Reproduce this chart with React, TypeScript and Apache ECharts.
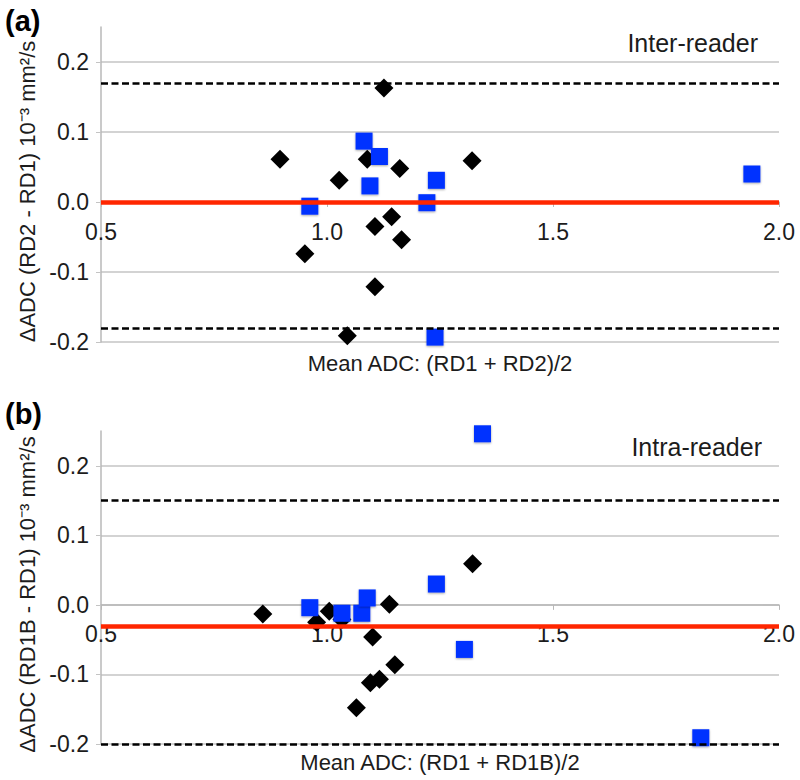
import React, { useEffect, useRef } from "react";
import * as echarts from "echarts";

// ---- Data: (a) Inter-reader ----
const interBlackX = [0.896, 1.027, 1.089, 1.126, 1.161, 1.321, 0.951, 1.106, 1.143, 1.165, 1.106, 1.045];
const interBlackY = [0.061, 0.031, 0.061, 0.163, 0.048, 0.059, -0.074, -0.035, -0.021, -0.054, -0.121, -0.191];
const interBlueX = [1.082, 1.116, 1.095, 1.242, 0.962, 1.221, 1.940, 1.239];
const interBlueY = [0.087, 0.065, 0.023, 0.031, -0.006, -0.001, 0.040, -0.193];
const interBias = 0.0;
const interUpper = 0.175;
const interLower = -0.178;

// ---- Data: (b) Intra-reader ----
const intraBlackX = [0.858, 0.977, 1.005, 1.033, 1.138, 1.101, 1.150, 1.096, 1.116, 1.065, 1.322];
const intraBlackY = [-0.013, -0.025, -0.009, -0.021, 0.001, -0.046, -0.086, -0.112, -0.107, -0.148, 0.059];
const intraBlueX = [0.962, 1.033, 1.077, 1.089, 1.242, 1.304, 1.344, 1.827];
const intraBlueY = [-0.004, -0.012, -0.012, 0.010, 0.030, -0.064, 0.246, -0.191];
const intraBias = -0.025;
const intraUpper = 0.15;
const intraLower = -0.199;

// ---- Axis settings / labels ----
const xMin = 0.5, xMax = 2.0, xStep = 0.5;
const yMin = -0.2, yMax = 0.25, yStep = 0.1;
const xCross = 0; // x axis crosses the y axis at this value
const panelLabels = ["(a)", "(b)"];
const panelTitles = ["Inter-reader", "Intra-reader"];
const yNames = ["ΔADC (RD2 - RD1) 10⁻³ mm²/s", "ΔADC (RD1B - RD1) 10⁻³ mm²/s"];
const xNames = ["Mean ADC: (RD1 + RD2)/2", "Mean ADC: (RD1 + RD1B)/2"];

const FONT = "'Liberation Sans', Arial, Helvetica, sans-serif";
const TXT = "#1c1c1c";
const GRIDC = "#c4c4c4";
const BLUE = "#0432ff";
const RED = "#ff2600";

const zip = (xs: number[], ys: number[]) => xs.map((x, i) => [x, ys[i]]);

export default function App() {
  const ref = useRef<HTMLDivElement>(null);
  useEffect(() => {
    if (!ref.current) return;
    const chart = echarts.init(ref.current, null, { renderer: "svg" });

    const grids = [
      { left: 101, right: 21, top: 27, height: 315 },
      { left: 101, right: 21, top: 431, height: 313 },
    ];

    const xAxes = [0, 1].map((g) => ({
      type: "value",
      gridIndex: g,
      min: xMin,
      max: xMax,
      interval: xStep,
      position: "bottom",
      // place the axis where y = xCross
      offset: -((xCross - yMin) / (yMax - yMin)) * grids[g].height,
      axisLine: { show: true, onZero: false, lineStyle: { color: "#b8b8b8", width: 1.5 } },
      axisTick: { show: true, length: 5, lineStyle: { color: "#b8b8b8" } },
      axisLabel: {
        margin: 18,
        fontSize: 23,
        fontFamily: FONT,
        color: TXT,
        formatter: (v: number) => v.toFixed(1),
      },
      splitLine: { show: false },
    }));

    const yAxes = [0, 1].map((g) => ({
      type: "value",
      gridIndex: g,
      min: yMin,
      max: yMax,
      interval: yStep,
      name: yNames[g],
      nameLocation: "middle",
      nameGap: 58,
      nameTextStyle: { fontSize: 22, fontFamily: FONT, color: TXT, padding: [0, 14, 0, 0] },
      axisLine: { show: true, lineStyle: { color: "#b8b8b8", width: 1.5 } },
      axisTick: { show: true, length: 5, lineStyle: { color: GRIDC } },
      axisLabel: {
        margin: 12,
        fontSize: 23,
        fontFamily: FONT,
        color: TXT,
        showMaxLabel: false,
        formatter: (v: number) => (Math.abs(v - yMax) < 1e-9 ? "" : v.toFixed(1)),
      },
      splitLine: { show: true, showMaxLine: false, lineStyle: { color: GRIDC, width: 1.5 } },
    }));

    const limits = [
      { bias: interBias, upper: interUpper, lower: interLower },
      { bias: intraBias, upper: intraUpper, lower: intraLower },
    ];
    const blacks = [zip(interBlackX, interBlackY), zip(intraBlackX, intraBlackY)];
    const blues = [zip(interBlueX, interBlueY), zip(intraBlueX, intraBlueY)];

    const series: any[] = [];
    [0, 1].forEach((g) => {
      series.push({
        type: "scatter",
        xAxisIndex: g,
        yAxisIndex: g,
        data: [],
        z: 2,
        silent: true,
        markLine: {
          silent: true,
          symbol: "none",
          label: { show: false },
          animation: false,
          data: [
            { yAxis: limits[g].upper, lineStyle: { color: "#000", type: [7, 3.5], width: 2.6 } },
            { yAxis: limits[g].lower, lineStyle: { color: "#000", type: [7, 3.5], width: 2.6 } },
            { yAxis: limits[g].bias, lineStyle: { color: RED, type: "solid", width: 4.5 } },
          ],
        },
      });
      series.push({
        type: "scatter",
        xAxisIndex: g,
        yAxisIndex: g,
        symbol: "diamond",
        symbolSize: 19,
        z: 3,
        itemStyle: { color: "#000", opacity: 1 },
        data: blacks[g],
      });
      series.push({
        type: "scatter",
        xAxisIndex: g,
        yAxisIndex: g,
        symbol: "rect",
        symbolSize: 17,
        z: 4,
        itemStyle: {
          color: BLUE,
          opacity: 1,
          shadowBlur: 2,
          shadowColor: "rgba(0,0,0,0.35)",
          shadowOffsetY: 1,
        },
        data: blues[g],
      });
    });

    const graphic: any[] = [
      { type: "text", left: 5, top: 6, style: { text: panelLabels[0], font: `bold 29px ${FONT}`, fill: "#000" } },
      { type: "text", left: 5, top: 399, style: { text: panelLabels[1], font: `bold 29px ${FONT}`, fill: "#000" } },
      { type: "text", right: 42, top: 30, style: { text: panelTitles[0], font: `25px ${FONT}`, fill: TXT } },
      { type: "text", right: 38, top: 434, style: { text: panelTitles[1], font: `25px ${FONT}`, fill: TXT } },
      { type: "text", x: 440, y: 363, style: { text: xNames[0], font: `22px ${FONT}`, fill: TXT, align: "center", verticalAlign: "middle" } },
      { type: "text", x: 440, y: 762, style: { text: xNames[1], font: `22px ${FONT}`, fill: TXT, align: "center", verticalAlign: "middle" } },
    ];

    chart.setOption({
      animation: false,
      backgroundColor: "#fff",
      grid: grids,
      xAxis: xAxes,
      yAxis: yAxes,
      series,
      graphic,
    });
    return () => chart.dispose();
  }, []);

  return (
    <div
      ref={ref}
      style={{ position: "fixed", left: 0, top: 0, width: 800, height: 780, background: "#fff" }}
    />
  );
}
